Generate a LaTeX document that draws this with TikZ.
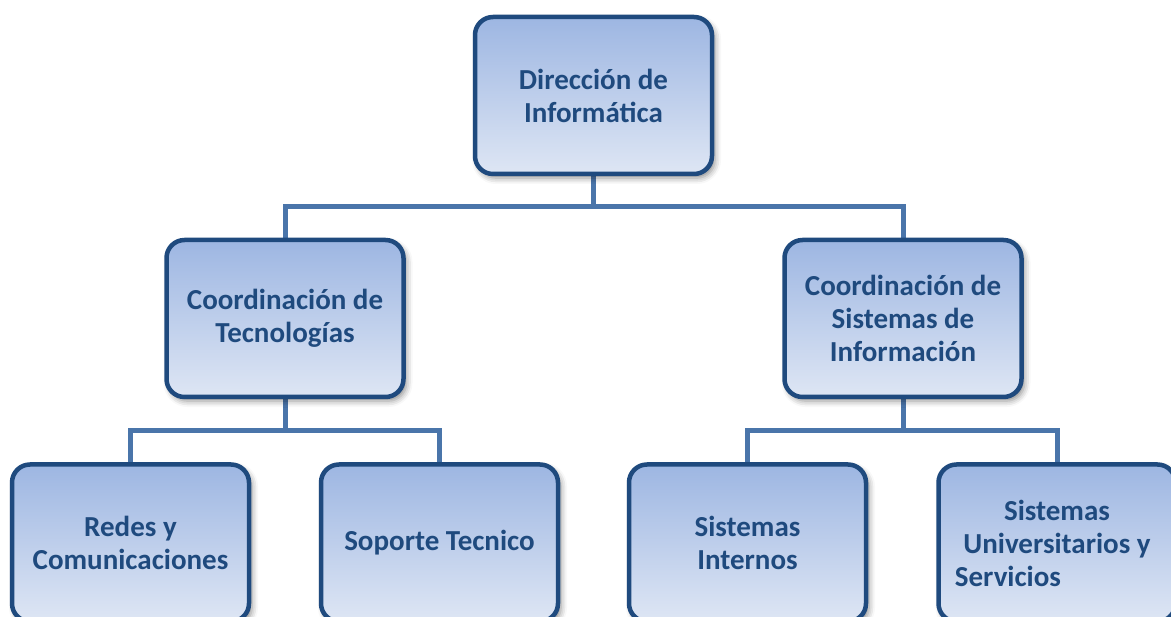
\documentclass[tikz,border=0pt]{standalone}
\usepackage{fontspec}
\setmainfont{Carlito}
\usetikzlibrary{shadows.blur}
\definecolor{boxline}{HTML}{1F4A7E}
\definecolor{boxtext}{HTML}{1F4A7E}
\definecolor{linkblue}{HTML}{4A75AA}
\definecolor{gradtop}{HTML}{9DB6E2}
\definecolor{gradbot}{HTML}{DEE6F4}
\tikzset{
  orgbox/.style={rectangle, rounded corners=18pt, draw=boxline, line width=4.5pt,
    minimum width=237pt, minimum height=157pt, inner sep=0pt,
    top color=gradtop, bottom color=gradbot, text=boxtext,
    font=\fontsize{29}{33}\selectfont\bfseries, align=center,
    blur shadow={shadow xshift=3pt, shadow yshift=-4pt, shadow blur radius=6pt, shadow opacity=45}},
  link/.style={draw=linkblue, line width=5pt}
}
\begin{document}
\begin{tikzpicture}[x=1pt,y=-1pt]
\useasboundingbox (0,0) rectangle (1171,617);
% connectors first
\coordinate (j1) at (593.5,207);
\coordinate (j2) at (285,431);
\coordinate (j3) at (903,431);
\coordinate (topS) at (593.5,172);
\coordinate (mlN) at (285,240);
\coordinate (mrN) at (903,240);
\coordinate (mlS) at (285,396);
\coordinate (mrS) at (903,396);
\coordinate (b1N) at (130.5,465);
\coordinate (b2N) at (439.5,465);
\coordinate (b3N) at (747.5,465);
\coordinate (b4N) at (1057,465);
\draw[link] (topS) -- (j1);
\draw[link] (mlN) -- (mlN |- j1) -- (mrN |- j1) -- (mrN);
\draw[link] (mlS) -- (j2);
\draw[link] (b1N) -- (b1N |- j2) -- (b2N |- j2) -- (b2N);
\draw[link] (mrS) -- (j3);
\draw[link] (b3N) -- (b3N |- j3) -- (b4N |- j3) -- (b4N);
% boxes
\node[orgbox] (top) at (593.5,95.5) {Dirección de\\Informática};
\node[orgbox] (ml) at (285,318.5) {Coordinación de\\Tecnologías};
\node[orgbox] (mr) at (903,318.5) {Coordinación de\\Sistemas de\\Información};
\node[orgbox] (b1) at (130.5,543) {Redes y\\Comunicaciones};
\node[orgbox] (b2) at (439.5,543) {Soporte Tecnico};
\node[orgbox] (b3) at (747.5,543) {Sistemas\\Internos};
\node[orgbox] (b4) at (1057,543) {Sistemas\\Universitarios y\\Servicios\hspace{98pt}\mbox{}};
\end{tikzpicture}
\end{document}
